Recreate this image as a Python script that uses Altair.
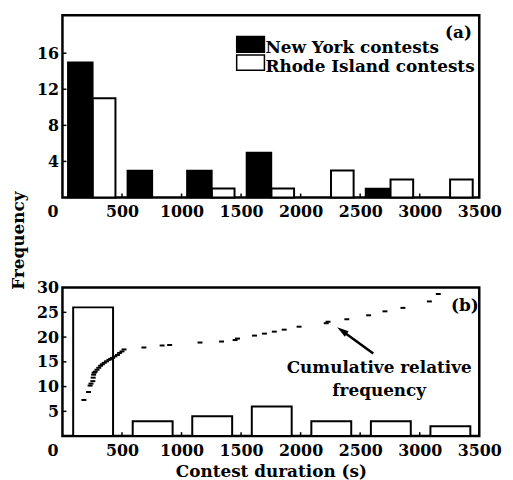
import altair as alt
import pandas as pd

# ---------------- data ----------------
bin_starts = [0, 500, 1000, 1500, 2000, 2500, 3000]
ny_counts = [15, 3, 3, 5, 0, 1, 0]
ri_counts = [11, 0, 1, 1, 3, 2, 2]
x_ticks = [0, 500, 1000, 1500, 2000, 2500, 3000, 3500]
y_ticks_a = [4, 8, 12, 16]
y_ticks_b = [5, 10, 15, 20, 25, 30]
legend_labels = ["New York contests", "Rhode Island contests"]
legend_fills = ["black", "white"]
cum_duration = [180, 219, 232, 240, 255, 258, 262, 266, 275, 290, 305, 320,
                335, 351, 370, 390, 405, 421, 440, 462, 480, 500, 517, 684,
                837, 900, 1155, 1336, 1450, 1470, 1613, 1696, 1779, 1862,
                1987, 2215, 2230, 2388, 2571, 2708, 2859, 3081, 3156]
cum_value = [7.3, 8.9, 10.2, 10.6, 11.1, 11.8, 12.4, 12.8, 13.0, 13.4, 13.8,
             14.2, 14.5, 14.8, 15.1, 15.4, 15.6, 15.8, 16.1, 16.4, 16.8, 17.1,
             17.5, 17.9, 18.3, 18.4, 18.9, 19.1, 19.4, 19.7, 20.3, 20.7, 21.1,
             21.5, 22.1, 22.8, 23.1, 23.6, 24.4, 25.2, 25.9, 27.2, 28.7]
annotation = "Cumulative relative\nfrequency"

# ---------------- layout ----------------
W, HA, HB = 421, 184, 150
FONT = "DejaVu Serif"
FS = 17      # text size
LFS = 16     # tick-label size
BOLD = "bold"

xs = alt.Scale(domain=[0, 3500], nice=False, zero=False)
ya = alt.Scale(domain=[0, 20.2], nice=False)
yb = alt.Scale(domain=[0, 30], nice=False)

zero_shift = {"condition": {"test": "datum.value == 0", "value": -10}, "value": 0}

common = dict(format="d", tickSize=0, domain=False, grid=False,
              labelOverlap=False, labelFlush=False)

AX_A = alt.Axis(values=x_ticks, labelOffset=zero_shift, labelPadding=6.5, title=None, **common)
AX_B = alt.Axis(values=x_ticks, labelOffset=zero_shift, labelPadding=6.5,
                title="Contest duration (s)", titlePadding=5.5, **common)
AY_A = alt.Axis(values=y_ticks_a, labelPadding=4, title="Frequency", titleX=-44, titleY=227,
                titleAlign="center", titleBaseline="middle", **common)
AY_B = alt.Axis(values=y_ticks_b, labelPadding=4, title=None, **common)


def XA(field):
    return alt.X(field, scale=xs, axis=AX_A)


def XB(field):
    return alt.X(field, scale=xs, axis=AX_B)


def YA(field):
    return alt.Y(field, scale=ya, axis=AY_A)


def YB(field):
    return alt.Y(field, scale=yb, axis=AY_B)


# ---------------- panel (a) ----------------
rows = []
for b, n, r in zip(bin_starts, ny_counts, ri_counts):
    if n > 0:
        rows.append({"x": b + 45, "x2": b + 255, "y": 0, "y2": n, "s": "NY"})
    if r > 0:
        rows.append({"x": b + 255, "x2": b + 445, "y": 0, "y2": r, "s": "RI"})
bars_a = pd.DataFrame(rows)

ny = alt.Chart(bars_a).transform_filter("datum.s == 'NY'").mark_rect(
    fill="black", stroke="black", strokeWidth=1.5
).encode(x=XA("x:Q"), x2="x2:Q", y=YA("y:Q"), y2="y2:Q")
ri = alt.Chart(bars_a).transform_filter("datum.s == 'RI'").mark_rect(
    fill="white", stroke="black", strokeWidth=2
).encode(x=XA("x:Q"), x2="x2:Q", y=YA("y:Q"), y2="y2:Q")

xt_a = alt.Chart(pd.DataFrame({"v": x_ticks[1:-1]})).mark_rule(
    color="black", strokeWidth=1.5
).encode(x=XA("v:Q"), y=alt.value(HA), y2=alt.value(HA - 4))
yt_a = alt.Chart(pd.DataFrame({"v": y_ticks_a})).mark_rule(
    color="black", strokeWidth=1.5
).encode(y=YA("v:Q"), x=alt.value(0), x2=alt.value(4))

leg = pd.DataFrame({
    "label": legend_labels,
    "fill": legend_fills,
    "x": [1463, 1463], "x2": [1696, 1696],
    "y": [16.1, 14.1], "y2": [17.85, 15.8],
    "ty": [16.0, 13.9],
})
leg_rect = alt.Chart(leg).mark_rect(stroke="black", strokeWidth=1.5).encode(
    x=XA("x:Q"), x2="x2:Q", y=YA("y:Q"), y2="y2:Q",
    fill=alt.Fill("fill:N", scale=None),
)
leg_text = alt.Chart(leg).mark_text(
    font=FONT, fontSize=FS, fontWeight=BOLD, align="left", baseline="alphabetic",
    color="black", dx=1
).encode(x=XA("x2:Q"), y=YA("ty:Q"), text="label:N")

tag_a = alt.Chart(pd.DataFrame({"t": ["(a)"], "x": [3325], "y": [18.2]})).mark_text(
    font=FONT, fontSize=FS, fontWeight=BOLD, align="center", baseline="middle", color="black"
).encode(x=XA("x:Q"), y=YA("y:Q"), text="t:N")

top = alt.layer(ny, ri, xt_a, yt_a, leg_rect, leg_text, tag_a).properties(width=W, height=HA)

# ---------------- panel (b) ----------------
tot = pd.DataFrame({
    "x": [b + 90 for b in bin_starts],
    "x2": [b + 425 for b in bin_starts],
    "y": [0] * len(bin_starts),
    "y2": [n + r for n, r in zip(ny_counts, ri_counts)],
})
bars_b = alt.Chart(tot).mark_rect(fill="white", stroke="black", strokeWidth=2).encode(
    x=XB("x:Q"), x2="x2:Q", y=YB("y:Q"), y2="y2:Q"
)
xt_b = alt.Chart(pd.DataFrame({"v": x_ticks[1:-1]})).mark_rule(
    color="black", strokeWidth=1.5
).encode(x=XB("v:Q"), y=alt.value(HB), y2=alt.value(HB - 4))
yt_b = alt.Chart(pd.DataFrame({"v": y_ticks_b[:-1]})).mark_rule(
    color="black", strokeWidth=1.5
).encode(y=YB("v:Q"), x=alt.value(0), x2=alt.value(4))

cum = alt.Chart(pd.DataFrame({"d": cum_duration, "c": cum_value})).mark_point(
    shape="M-1,-0.4L1,-0.4L1,0.4L-1,0.4Z", size=25, filled=True, color="black", opacity=1
).encode(x=XB("d:Q"), y=YB("c:Q"))

arrow_df = pd.DataFrame({"x": [2610], "y": [16.7], "x2": [2347], "y2": [21.3]})
arrow_line = alt.Chart(arrow_df).mark_rule(color="black", strokeWidth=2.5).encode(
    x=XB("x:Q"), y=YB("y:Q"), x2="x2:Q", y2="y2:Q"
)
arrow_head = alt.Chart(arrow_df).mark_point(
    shape="M0,-1L0.55,1L-0.55,1Z", size=140, filled=True, color="black", opacity=1,
    angle=305
).encode(x=XB("x2:Q"), y=YB("y2:Q"))

note = alt.Chart(pd.DataFrame({"t": [annotation], "x": [2660], "y": [12.7]})).mark_text(
    font=FONT, fontSize=FS, fontWeight=BOLD, align="center", baseline="alphabetic",
    color="black", lineBreak="\n", lineHeight=23
).encode(x=XB("x:Q"), y=YB("y:Q"), text="t:N")

tag_b = alt.Chart(pd.DataFrame({"t": ["(b)"], "x": [3380], "y": [26.3]})).mark_text(
    font=FONT, fontSize=FS, fontWeight=BOLD, align="center", baseline="middle", color="black"
).encode(x=XB("x:Q"), y=YB("y:Q"), text="t:N")

bottom = alt.layer(bars_b, xt_b, yt_b, cum, arrow_line, arrow_head, note, tag_b).properties(
    width=W, height=HB
)

chart = alt.vconcat(top, bottom, spacing=91, bounds="flush").properties(
    padding={"left": 0, "top": 3, "right": 2, "bottom": 0}
).configure_view(
    stroke="black", strokeWidth=2.5
).configure_axis(
    labelFont=FONT, labelFontSize=LFS, labelFontWeight=BOLD, labelColor="black",
    titleFont=FONT, titleFontSize=FS, titleFontWeight=BOLD, titleColor="black",
)

chart.save("out.html", embed_options={"renderer": "svg", "actions": False})
